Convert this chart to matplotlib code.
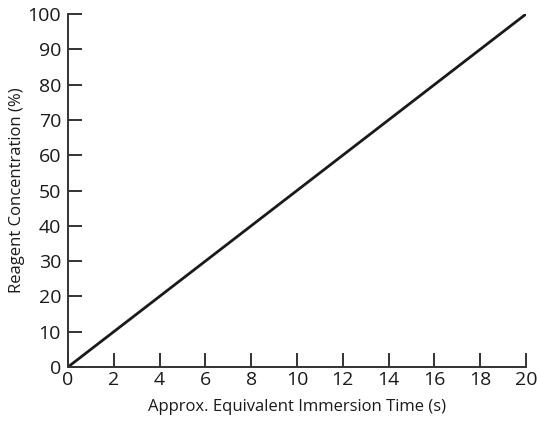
import matplotlib.pyplot as plt

time_s = [0, 20]
concentration = [0, 100]
x_ticks = list(range(0, 21, 2))
y_ticks = list(range(0, 101, 10))

plt.rcParams['font.family'] = ['Open Sans', 'DejaVu Sans']

fig = plt.figure(figsize=(5.37, 4.21), dpi=100)
ax = fig.add_axes([0.1266, 0.1283, 0.853, 0.8384])

ax.plot(time_s, concentration, color='#1a1a1a', linewidth=2, solid_capstyle='butt')

ax.set_xlim(0, 20)
ax.set_ylim(0, 100)
ax.set_xticks(x_ticks)
ax.set_yticks(y_ticks)

for side in ['top', 'right']:
    ax.spines[side].set_visible(False)
for side in ['left', 'bottom']:
    ax.spines[side].set_color('#333333')
    ax.spines[side].set_linewidth(1.4)

ax.tick_params(direction='in', length=10, width=1.4, color='#333333',
               labelsize=14, labelcolor='#1a1a1a')
ax.tick_params(axis='y', pad=5)
ax.tick_params(axis='x', pad=3)

ax.set_xlabel('Approx. Equivalent Immersion Time (s)', fontsize=12, color='#1a1a1a', labelpad=7)
ax.set_ylabel('Reagent Concentration (%)', fontsize=12, color='#1a1a1a', labelpad=2)

fig.savefig('out.png', dpi=100)
